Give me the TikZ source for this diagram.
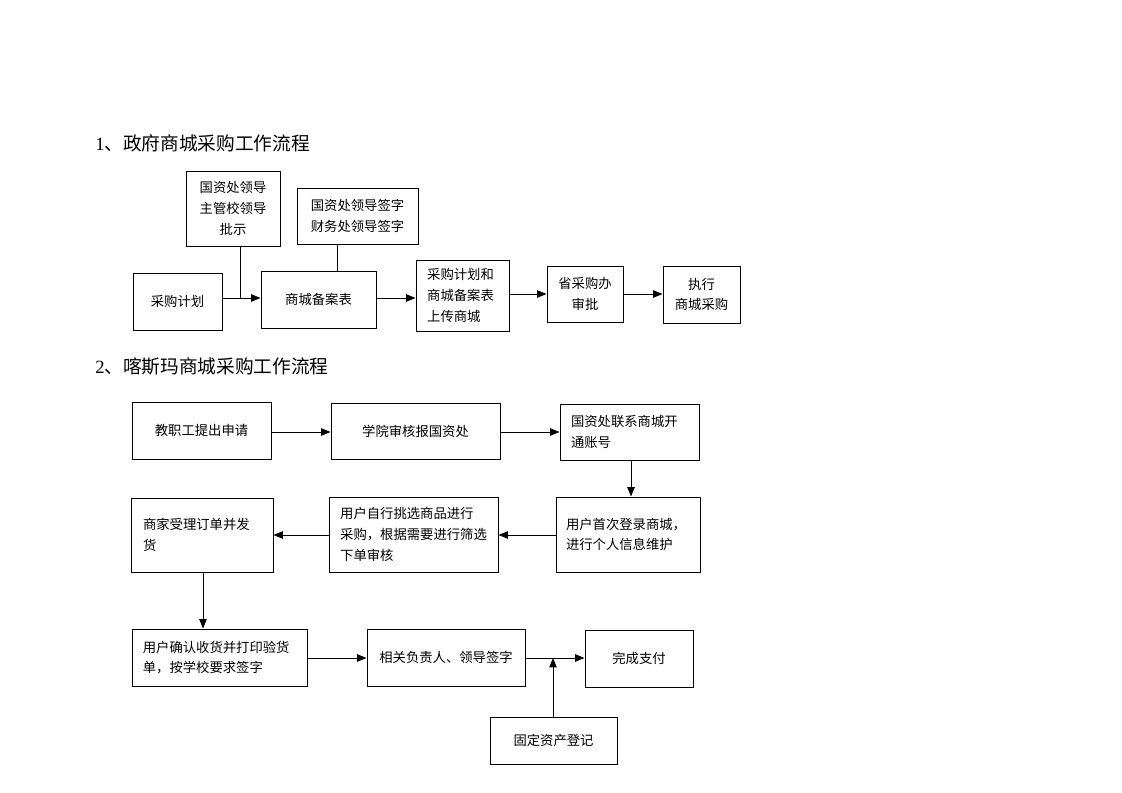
\documentclass[tikz,border=0pt]{standalone}
\usepackage{fontspec}
\setmainfont{Liberation Serif}
\newfontfamily\cjk{Noto Sans CJK SC}
\usetikzlibrary{arrows.meta}
\newcommand\bx[7][]{\node[box,minimum width={(#5-#3)*0.75pt},minimum height={(#6-#4)*0.75pt},#1] (#2) at ({(#3+#5)/2},{(#4+#6)/2}) {#7};}
\begin{document}
\begin{tikzpicture}[x=0.75pt,y=-0.75pt,
  box/.style={draw, line width=0.7pt, inner sep=0pt, font=\cjk\fontsize{10}{15.5}\selectfont, align=center},
  lbox/.style={align=left},
  arr/.style={-{Triangle[length=7pt,width=5.5pt]}, line width=0.7pt},
  ln/.style={line width=0.7pt},
  ttl/.style={anchor=west, inner sep=0pt, font=\fontsize{14}{16}\selectfont}]
\useasboundingbox (0,0) rectangle (1122,793);

% section 1
\node[ttl] (t1) at (95,143) {1{\cjk 、政府商城采购工作流程}};
\bx{A}{133}{273}{222}{330}{采购计划}
\bx{B}{186}{171}{280}{246}{国资处领导\\主管校领导\\批示}
\bx{C}{297}{188}{418}{244}{国资处领导签字\\财务处领导签字}
\bx{D}{261}{271}{376}{328}{商城备案表}
\bx[lbox,text width=53pt]{E}{416}{260}{509}{331}{采购计划和\\商城备案表\\上传商城}
\bx{F}{547}{266}{623}{322}{省采购办\\审批}
\bx{G}{663}{266}{740}{323}{执行\\商城采购}

\coordinate (j1) at (240,298);
\coordinate (j2) at (337,298);
\coordinate (j3) at (0,294);
\draw[arr] (A.east |- j1) -- (D.west |- j1);
\draw[ln] (B.south -| j1) -- (j1);
\draw[ln] (C.south -| j2) -- (D.north -| j2);
\draw[arr] (D.east |- j1) -- (E.west |- j1);
\draw[arr] (E.east |- j3) -- (F.west |- j3);
\draw[arr] (F.east |- j3) -- (G.west |- j3);

% section 2
\node[ttl] (t2) at (95,367) {2{\cjk 、喀斯玛商城采购工作流程}};
\bx{H}{132}{402}{271}{459}{教职工提出申请}
\bx{I}{331}{403}{500}{459}{学院审核报国资处}
\bx[lbox,text width=87.75pt]{J}{560}{404}{699}{460}{国资处联系商城开\\通账号}
\bx[lbox,text width=93pt]{K}{556}{497}{700}{572}{用户首次登录商城，\\进行个人信息维护}
\bx[lbox,text width=110pt]{L}{329}{497}{498}{572}{用户自行挑选商品进行\\采购，根据需要进行筛选\\下单审核}
\bx[lbox,text width=88.5pt]{M}{131}{498}{273}{572}{商家受理订单并发\\货}
\bx[lbox,text width=115pt]{N}{132}{629}{307}{686}{用户确认收货并打印验货\\单，按学校要求签字}
\bx{O}{367}{629}{525}{686}{相关负责人、领导签字}
\bx{P}{585}{630}{693}{687}{完成支付}
\bx{Q}{490}{717}{617}{764}{固定资产登记}

\coordinate (r1) at (0,432);
\coordinate (r2) at (0,535);
\coordinate (r3) at (0,658);
\coordinate (vj) at (631,0);
\coordinate (vm) at (203,0);
\coordinate (vq) at (553,658);
\draw[arr] (H.east |- r1) -- (I.west |- r1);
\draw[arr] (I.east |- r1) -- (J.west |- r1);
\draw[arr] (J.south -| vj) -- (K.north -| vj);
\draw[arr] (K.west |- r2) -- (L.east |- r2);
\draw[arr] (L.west |- r2) -- (M.east |- r2);
\draw[arr] (M.south -| vm) -- (N.north -| vm);
\draw[arr] (N.east |- r3) -- (O.west |- r3);
\draw[arr] (O.east |- r3) -- (P.west |- r3);
\draw[arr] (Q.north -| vq) -- (vq);
\end{tikzpicture}
\end{document}
